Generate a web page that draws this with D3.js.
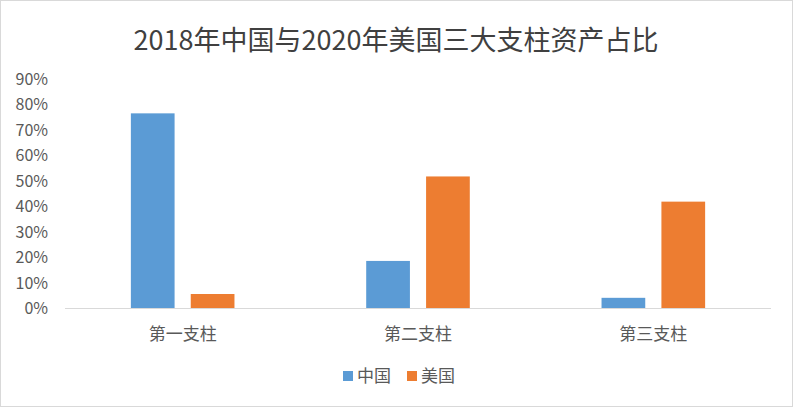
<!DOCTYPE html>
<html><head><meta charset="utf-8">
<script src="https://cdn.jsdelivr.net/npm/d3@7"></script>
<style>body{margin:0;background:#fff}text{font-family:"Noto Sans CJK SC","Liberation Sans",sans-serif}</style>
</head><body>
<svg id="chart" width="793" height="407"></svg>
<script>
const categories = ["第一支柱", "第二支柱", "第三支柱"];
const seriesNames = ["中国", "美国"];
const china = [0.765, 0.185, 0.04];
const usa = [0.055, 0.517, 0.418];
const colors = ["#5b9bd5", "#ed7d31"];
const yTicks = [0, 0.1, 0.2, 0.3, 0.4, 0.5, 0.6, 0.7, 0.8, 0.9];

const svg = d3.select("#chart");
svg.append("rect").attr("x", 0.5).attr("y", 0.5).attr("width", 792).attr("height", 406)
  .attr("fill", "#fff").attr("stroke", "#d9d9d9");

const plotLeft = 65, plotRight = 771, plotTop = 79, plotBottom = 308;
const x = d3.scaleBand().domain(categories).range([plotLeft, plotRight]);
const xs = d3.scaleBand().domain(seriesNames).range([0, x.bandwidth()]).paddingInner(0.27).paddingOuter(1.1);
const y = d3.scaleLinear().domain([0, 0.9]).range([plotBottom, plotTop]);

// title
svg.append("text").attr("x", 396).attr("y", 50).attr("text-anchor", "middle")
  .attr("font-size", 27).attr("fill", "#404040").text("2018年中国与2020年美国三大支柱资产占比");

// y axis labels
svg.selectAll(".yl").data(yTicks).enter().append("text")
  .attr("x", 48).attr("y", d => y(d) + 6).attr("text-anchor", "end")
  .attr("font-size", 16).attr("fill", "#595959").text(d3.format(".0%"));

// baseline
svg.append("line").attr("x1", plotLeft).attr("x2", plotRight).attr("y1", plotBottom + 0.5).attr("y2", plotBottom + 0.5)
  .attr("stroke", "#d9d9d9");

const data = [china, usa];
data.forEach((vals, si) => {
  svg.selectAll(".b" + si).data(vals).enter().append("rect")
    .attr("x", (d, i) => x(categories[i]) + xs(seriesNames[si]))
    .attr("width", xs.bandwidth())
    .attr("y", d => y(d)).attr("height", d => y(0) - y(d))
    .attr("fill", colors[si]);
});

// x labels
svg.selectAll(".xl").data(categories).enter().append("text")
  .attr("x", d => x(d) + x.bandwidth() / 2).attr("y", 340).attr("text-anchor", "middle")
  .attr("font-size", 17).attr("fill", "#595959").text(d => d);

// legend
const lx = [343, 407];
seriesNames.forEach((n, i) => {
  svg.append("rect").attr("x", lx[i]).attr("y", 371).attr("width", 10).attr("height", 10).attr("fill", colors[i]);
  svg.append("text").attr("x", lx[i] + 14).attr("y", 382).attr("font-size", 17).attr("fill", "#595959").text(n);
});
</script>
</body></html>
